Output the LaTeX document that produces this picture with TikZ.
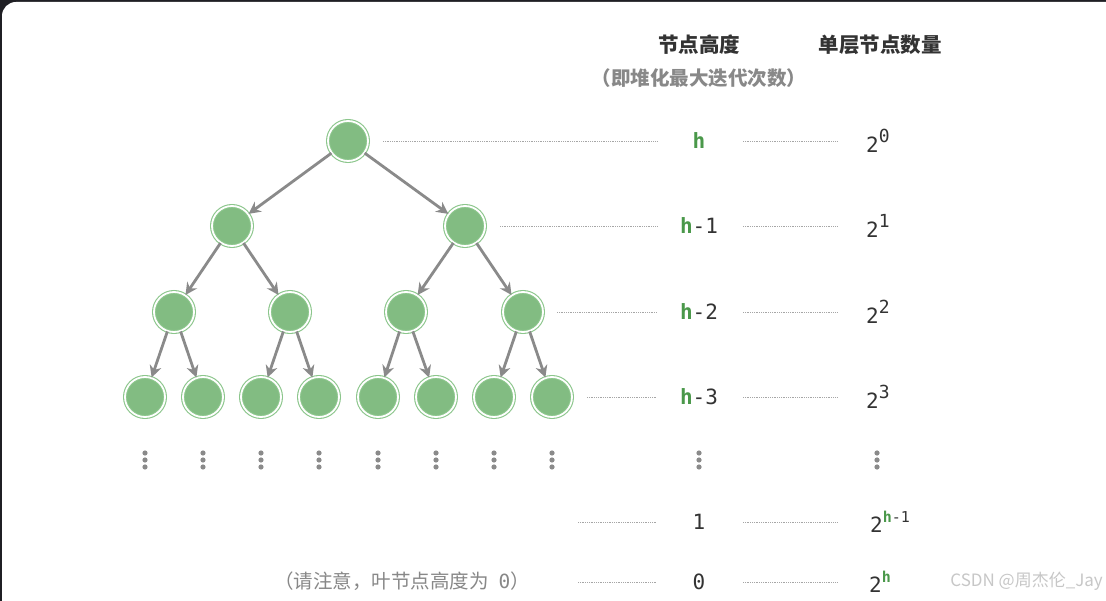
\documentclass[tikz,border=0pt]{standalone}
\usepackage{fontspec}
\setmonofont{DejaVu Sans Mono}
\newfontfamily\cjk{Noto Sans CJK SC}
\usetikzlibrary{arrows.meta}

\definecolor{framedark}{HTML}{1F1F24}
\definecolor{nodegreen}{HTML}{82BC82}
\definecolor{ringgreen}{HTML}{8CC68C}
\definecolor{hgreen}{HTML}{4A984A}
\definecolor{edgegray}{HTML}{8A8A8A}
\definecolor{textdark}{HTML}{333333}
\definecolor{textgray}{HTML}{888888}

\tikzset{
  hnode/.style={circle, minimum size=40pt, inner sep=0pt, fill=nodegreen,
    draw=ringgreen, double=white, double distance=1.8pt, line width=1.1pt},
  edge/.style={-{Stealth[length=12pt, width=12pt]}, draw=edgegray, line width=2.8pt},
  leader/.style={draw=gray!70, line width=0.8pt, dash pattern=on 0.9pt off 0.9pt},
  headtxt/.style={font=\cjk\bfseries\fontsize{20.5}{24}\selectfont, text=textdark},
  subtxt/.style={font=\cjk\bfseries\fontsize{19.5}{23}\selectfont, text=textgray},
  lbl/.style={font=\ttfamily\fontsize{21}{24}\selectfont, text=textdark, inner sep=0pt},
}
\newcommand{\hh}{\textcolor{hgreen}{\bfseries h}}

\begin{document}
\begin{tikzpicture}[x=1pt, y=-1pt]
  \useasboundingbox (0,0) rectangle (1106,601);
  \fill[framedark] (0,0) rectangle (1106,601);
  \fill[white, rounded corners=14pt] (2,2) rectangle (1140,640);

  % 表头
  \node[headtxt] (head1) at (699,45) {节点高度};
  \node[headtxt] (head2) at (880,45) {单层节点数量};
  \node[subtxt]  (head3) at (699,78) {（即堆化最大迭代次数）};

  % 完全二叉树
  \node[hnode] (n1) at (348,141) {};
  \node[hnode] (n2) at (232,226) {};
  \node[hnode] (n3) at (465,226) {};
  \node[hnode] (n4) at (174,312) {};
  \node[hnode] (n5) at (290,312) {};
  \node[hnode] (n6) at (406,312) {};
  \node[hnode] (n7) at (523,312) {};
  \node[hnode] (n8)  at (145,397) {};
  \node[hnode] (n9)  at (203,397) {};
  \node[hnode] (n10) at (261,397) {};
  \node[hnode] (n11) at (319,397) {};
  \node[hnode] (n12) at (378,397) {};
  \node[hnode] (n13) at (436,397) {};
  \node[hnode] (n14) at (494,397) {};
  \node[hnode] (n15) at (552,397) {};

  \foreach \p/\c in {1/2, 1/3, 2/4, 2/5, 3/6, 3/7, 4/8, 4/9,
                     5/10, 5/11, 6/12, 6/13, 7/14, 7/15}
    \draw[edge] (n\p) -- (n\c);

  % 省略号
  \foreach \x in {145, 203, 261, 319, 378, 436, 494, 552, 699, 877}
    \foreach \d in {-7, 0, 7}
      \fill[edgegray] (\x,460+\d) circle (2.6pt);

  % 虚线
  \foreach \i/\y/\xa in {0/141/383, 1/226/500, 2/312/557, 3/397/587,
                         4/522/578, 5/582/578} {
    \coordinate (la\i) at (\xa,\y);
    \coordinate (lb\i) at (657,\y);
    \coordinate (lc\i) at (743,\y);
    \coordinate (ld\i) at (837,\y);
    \draw[leader] (la\i) -- (lb\i);
    \draw[leader] (lc\i) -- (ld\i);
  }

  % 节点高度
  \node[lbl] (h0) at (699,141) {\hh};
  \node[lbl] (h1) at (699,226) {\hh-1};
  \node[lbl] (h2) at (699,312) {\hh-2};
  \node[lbl] (h3) at (699,397) {\hh-3};
  \node[lbl] (h4) at (699,522) {1};
  \node[lbl] (h5) at (699,582) {0};

  % 单层节点数量
  \node[lbl, anchor=west] (c0) at (866,141) {2\raisebox{10pt}{\fontsize{18}{18}\selectfont 0}};
  \node[lbl, anchor=west] (c1) at (866,226) {2\raisebox{10pt}{\fontsize{18}{18}\selectfont 1}};
  \node[lbl, anchor=west] (c2) at (866,312) {2\raisebox{10pt}{\fontsize{18}{18}\selectfont 2}};
  \node[lbl, anchor=west] (c3) at (866,397) {2\raisebox{10pt}{\fontsize{18}{18}\selectfont 3}};
  \node[lbl, anchor=west] (c4) at (870,522) {2\raisebox{10pt}{\fontsize{15}{15}\selectfont\hh-1}};
  \node[lbl, anchor=west] (c5) at (869,582) {2\raisebox{10pt}{\fontsize{15}{15}\selectfont\hh}};

  \node[font=\cjk\fontsize{19.5}{23}\selectfont, text=textgray] (note) at (402,581)
    {（请注意，叶节点高度为\hspace{10pt}{\ttfamily 0}）};
  \node[font=\cjk\fontsize{17}{21}\selectfont, text=black!22, anchor=east, inner sep=0pt]
    (mark) at (1103,581) {CSDN @周杰伦\_Jay};
\end{tikzpicture}
\end{document}
